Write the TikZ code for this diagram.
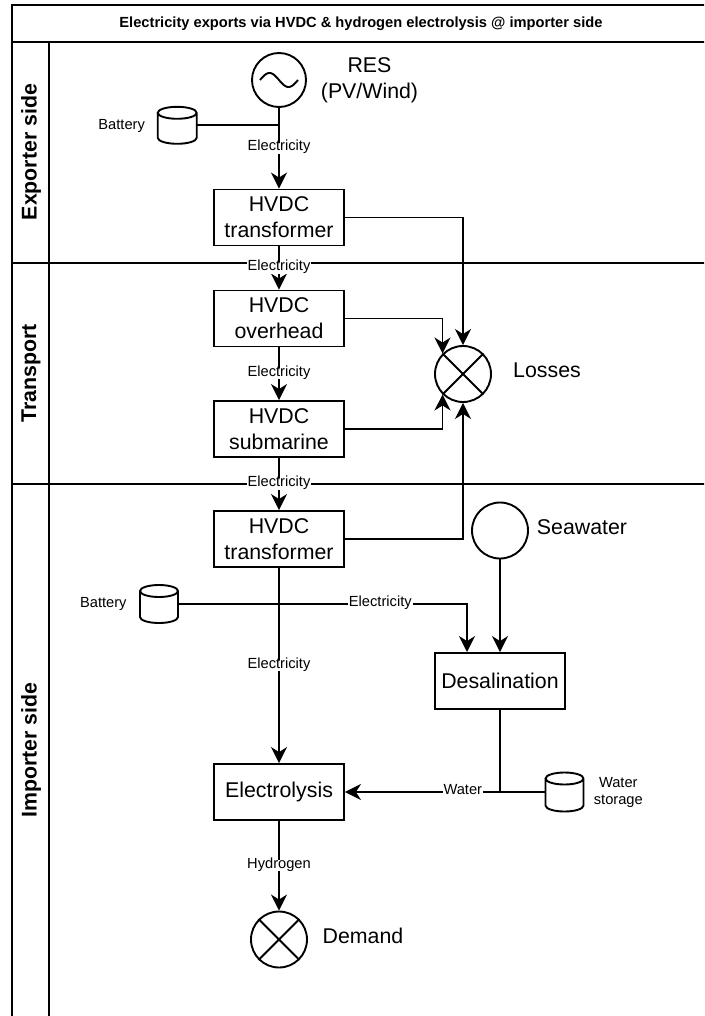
\documentclass[tikz,border=0pt]{standalone}
\usepackage{fontspec}
\setmainfont{Liberation Sans}
\usetikzlibrary{arrows.meta,calc}
\newcommand\drawcyl[3]{%
  \draw[line] ([yshift=-#3]#1.north west) -- ([yshift=#3]#1.south west)
    arc[start angle=180, end angle=360, x radius=#2, y radius=#3]
    -- ([yshift=-#3]#1.north east)
    arc[start angle=0, end angle=180, x radius=#2, y radius=#3]
    arc[start angle=180, end angle=360, x radius=#2, y radius=#3];}
\begin{document}
\begin{tikzpicture}[x=1pt,y=-1pt,
  line/.style={line width=1.9pt, line join=miter},
  frame/.style={line width=1.9pt},
  arr/.style={line, -{Stealth[length=16pt,width=16pt,inset=5pt]}},
  box/.style={draw, line width=1.9pt, minimum width=130pt, minimum height=56pt, inner sep=0pt, align=center, font=\fontsize{21.33}{26}\selectfont},
  disc/.style={circle, draw, line width=1.9pt, minimum size=56pt, inner sep=0pt},
  big/.style={inner sep=0pt, align=center, text height=0.72em, text depth=0.12em, font=\fontsize{21.33}{25.6}\selectfont},
  bigml/.style={inner sep=0pt, align=center, font=\fontsize{21.33}{25.6}\selectfont},
  small/.style={inner sep=0pt, align=center, font=\fontsize{14.67}{17}\selectfont},
  lbl/.style={fill=white, inner sep=1pt, text height=0.72em, text depth=0.2em, font=\fontsize{14.67}{17}\selectfont},
  lane/.style={rotate=90, inner sep=0pt, font=\fontsize{21.33}{25.6}\selectfont\bfseries},
  slot/.style={inner sep=0pt, outer sep=0pt},
]
\useasboundingbox (0,0) rectangle (704,1016);
\clip (0,0) rectangle (704,1016);
\fill[white] (0,0) rectangle (704,1016);

% swimlane frame
\draw[frame] (12,5) rectangle (712,1022);
\draw[frame] (12,41.7) -- (712,41.7);
\draw[frame] (49,41.7) -- (49,1022);
\draw[frame] (12,263.3) -- (712,263.3);
\draw[frame] (12,484) -- (712,484);

\node[inner sep=0pt, font=\fontsize{14.67}{17}\selectfont\bfseries] (title) at (361,23.5)
  {Electricity exports via HVDC \& hydrogen electrolysis @ importer side};
\node[lane] (lane1) at (31,152) {Exporter side};
\node[lane] (lane2) at (31,373.5) {Transport};
\node[lane] (lane3) at (31,750) {Importer side};

% exporter side
\node[disc, minimum size=54pt] (res) at (279,80) {};
\draw[line] plot[domain=0:360, samples=60, smooth] ({260+38*\x/360}, {80-7*sin(\x)});
\node[bigml] (reslbl) at (369.5,80.5) {RES\\(PV/Wind)};
\node[slot, minimum width=39pt, minimum height=37pt] (bat1) at (177.2,125.3) {};
\drawcyl{bat1}{19.5pt}{6pt}
\node[small] (bat1lbl) at (121.7,126) {Battery};
\node[box] (t1) at (279,217.5) {HVDC\\transformer};

% transport
\node[box] (ovh) at (279,318.5) {HVDC\\overhead};
\node[box] (sub) at (279,429) {HVDC\\submarine};
\node[disc] (loss) at (463,374) {};
\draw[line] (loss.north east) -- (loss.south west) (loss.north west) -- (loss.south east);
\node[big] (losslbl) at (547,374.3) {Losses};

% importer side
\node[box] (t2) at (279,539) {HVDC\\transformer};
\node[disc] (sea) at (500,530.5) {};
\node[big] (sealbl) at (582,531.7) {Seawater};
\node[slot, minimum width=38pt, minimum height=38pt] (bat2) at (159,604) {};
\drawcyl{bat2}{19pt}{6pt}
\node[small] (bat2lbl) at (103.3,604) {Battery};
\node[box] (desal) at (500,681) {Desalination};
\node[box] (elec) at (279,792) {Electrolysis};
\node[slot, minimum width=38pt, minimum height=39pt] (ws) at (564.5,792) {};
\drawcyl{ws}{19pt}{6pt}
\node[small] (wslbl) at (618.3,792.5) {Water\\storage};
\node[disc] (dem) at (279,939.5) {};
\draw[line] (dem.north east) -- (dem.south west) (dem.north west) -- (dem.south east);
\node[big] (demlbl) at (363,940) {Demand};

% connectors
\draw[line] (bat1.east) -- (bat1.east -| res.south);
\draw[arr] (res) -- node[lbl]{Electricity} (t1);
\draw[arr] (t1) -- node[lbl]{Electricity} (ovh);
\draw[arr] (ovh) -- node[lbl]{Electricity} (sub);
\draw[arr] (sub) -- node[lbl]{Electricity} (t2);
\draw[arr] (t1.east) -| (loss.north);
\draw[arr] (ovh.east) -| (loss.135);
\draw[arr] (sub.east) -| (loss.225);
\draw[arr] (t2.east) -| (loss.south);
\draw[arr] (t2) -- node[lbl]{Electricity} (elec);
\draw[arr] (sea) -- (desal);
\coordinate (dIn) at ($(desal.north west)!0.25!(desal.north east)$);
\draw[arr] (bat2.east) -| node[lbl, pos=0.35]{Electricity} (dIn);
\draw[arr] (desal.south) |- node[lbl, pos=0.62]{Water} (elec.east);
\draw[line] (ws.west) -- (ws.west -| desal.south);
\draw[arr] (elec) -- node[lbl]{Hydrogen} (dem);
\end{tikzpicture}
\end{document}
